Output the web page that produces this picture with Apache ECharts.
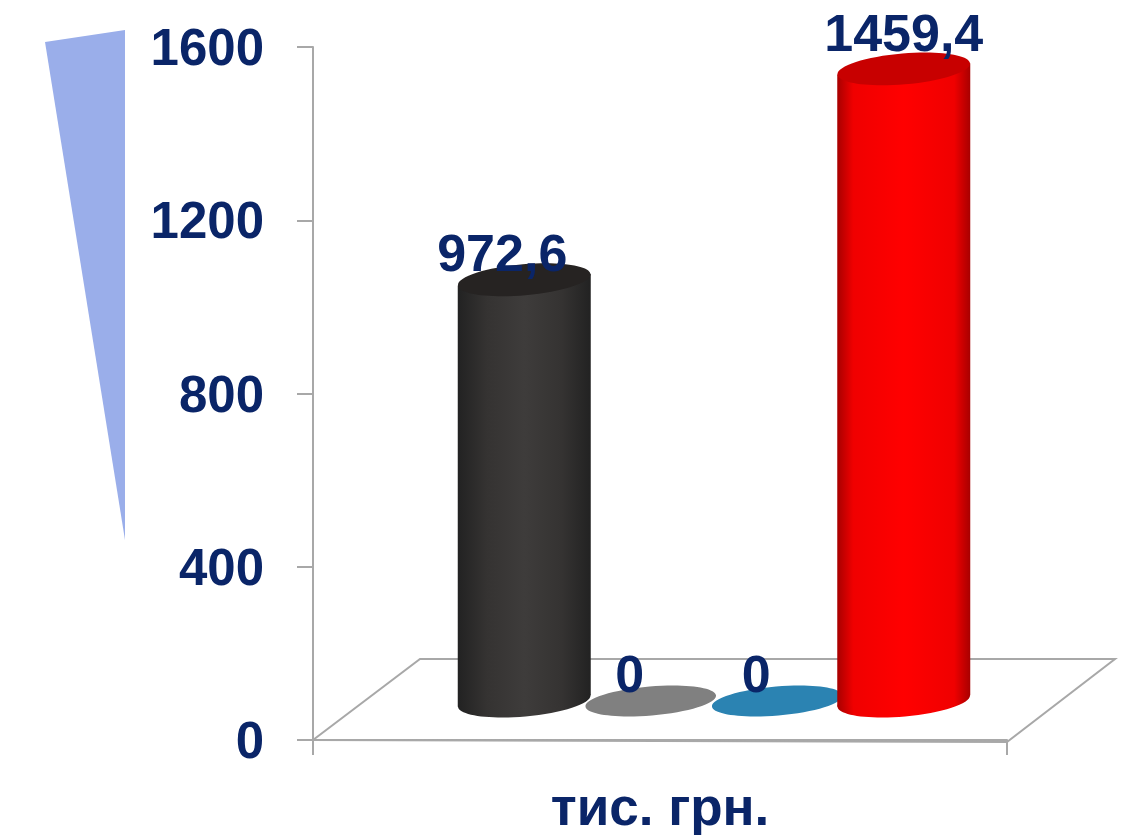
<!DOCTYPE html>
<html>
<head>
<meta charset="utf-8">
<style>html,body{margin:0;padding:0;background:#fff}#c{width:1137px;height:835px}</style>
<script src="https://cdn.jsdelivr.net/npm/echarts@6/dist/echarts.min.js"></script>
</head>
<body>
<div id="c"></div>
<script>
var categories = ['тис. грн.'];
var yTicks = [0, 400, 800, 1200, 1600];
var seriesA = [972.6];
var seriesB = [0];
var seriesC = [0];
var seriesD = [1459.4];

var NAVY = '#0a2568', AXIS = '#a8a8a8', FONT = '"Liberation Sans", Arial, sans-serif';
var DEPTH_X = 54, DEPTH_Y = 39, SLOT = 126.5, RX = 66.5, RY = 15.5, TILT = 0.085;

function cylinder(slot, fill, body, top, labelDx, labelDy) {
  return function (params, api) {
    var v = api.value(1);
    var base = api.coord([0, 0]);
    var head = api.coord([0, v]);
    var cx = base[0] + DEPTH_X + (slot - 1.5) * SLOT;
    var by = base[1] - DEPTH_Y, ty = head[1] - DEPTH_Y;
    var kids = [];
    var sk = RX * Math.sin(TILT);
    if (v > 0) {
      var grad = {type: 'linear', x: 0, y: 0, x2: 1, y2: 0, colorStops: body};
      kids.push({type: 'ellipse', x: cx, y: by, rotation: TILT, shape: {cx: 0, cy: 0, rx: RX, ry: RY}, style: {fill: grad}});
      kids.push({type: 'polygon', shape: {points: [[cx - RX, ty + sk], [cx + RX, ty - sk], [cx + RX, by - sk], [cx - RX, by + sk]]}, style: {fill: grad}});
      kids.push({type: 'ellipse', x: cx, y: ty, rotation: TILT, shape: {cx: 0, cy: 0, rx: RX, ry: RY}, style: {fill: top}});
    } else {
      kids.push({type: 'ellipse', x: cx, y: by, rotation: TILT, shape: {cx: 0, cy: 0, rx: RX - 1, ry: RY - 1}, style: {fill: fill}});
    }
    kids.push({type: 'text', z2: 100, style: {
      text: String(v).replace('.', ','), x: cx + labelDx, y: ty + labelDy,
      align: 'center', verticalAlign: 'middle', fill: NAVY, font: 'bold 52px ' + FONT
    }});
    return {type: 'group', children: kids};
  };
}

function floor(params, api) {
  var s = params.coordSys;
  var y0 = api.coord([0, 0])[1];
  return {type: 'polygon', shape: {points: [
    [s.x, y0], [s.x + 107, y0 - 81], [s.x + s.width + 108, y0 - 81], [s.x + s.width, y0 + 2]
  ]}, style: {fill: 'none', stroke: AXIS, lineWidth: 2}};
}

function cyl(name, values, render) {
  return {name: name, type: 'custom', clip: false, renderItem: render,
    encode: {x: 0, y: 1}, data: values.map(function (v, i) { return [i, v]; })};
}

var chart = echarts.init(document.getElementById('c'), null, {renderer: 'canvas'});
chart.setOption({
  animation: false,
  backgroundColor: '#ffffff',
  grid: {left: 313, right: 130, top: 47, bottom: 95, containLabel: false, outerBoundsMode: 'none'},
  xAxis: {
    type: 'category', data: categories,
    axisLine: {lineStyle: {color: AXIS, width: 2}},
    axisTick: {show: true, length: 15, lineStyle: {color: AXIS, width: 2}},
    axisLabel: {margin: 44, color: NAVY, fontFamily: FONT, fontWeight: 'bold', fontSize: 53}
  },
  yAxis: {
    type: 'value', min: 0, max: 1600, interval: 400,
    axisLine: {show: true, lineStyle: {color: AXIS, width: 2}},
    axisTick: {show: true, length: 16, lineStyle: {color: AXIS, width: 2}},
    splitLine: {show: false},
    axisLabel: {margin: 49, color: NAVY, fontFamily: FONT, fontWeight: 'bold', fontSize: 51,
      verticalAlign: 'top', lineHeight: 8,
      formatter: function (v) { return yTicks.indexOf(v) >= 0 ? String(v) : ''; }}
  },
  graphic: [{type: 'polygon', shape: {points: [[45, 42], [125, 30], [125, 540]]}, style: {fill: '#9aaeea'}}],
  series: [
    {type: 'custom', clip: false, silent: true, renderItem: floor, encode: {x: 0, y: 1}, data: [[0, 0]]},
    cyl('A', seriesA, cylinder(0, '#333', [{offset: 0, color: '#222222'}, {offset: 0.22, color: '#353332'}, {offset: 0.5, color: '#3e3c3b'}, {offset: 0.78, color: '#353332'}, {offset: 1, color: '#222222'}], '#262322', -22, -23)),
    cyl('B', seriesB, cylinder(1, '#808080', null, null, -21, -23)),
    cyl('C', seriesC, cylinder(2, '#2b83b2', null, null, -21, -23)),
    cyl('D', seriesD, cylinder(3, '#f00', [{offset: 0, color: '#a80000'}, {offset: 0.12, color: '#f00000'}, {offset: 0.5, color: '#ff0000'}, {offset: 0.88, color: '#f00000'}, {offset: 1, color: '#a80000'}], '#c80000', 0, -32))
  ]
});
</script>
</body>
</html>
